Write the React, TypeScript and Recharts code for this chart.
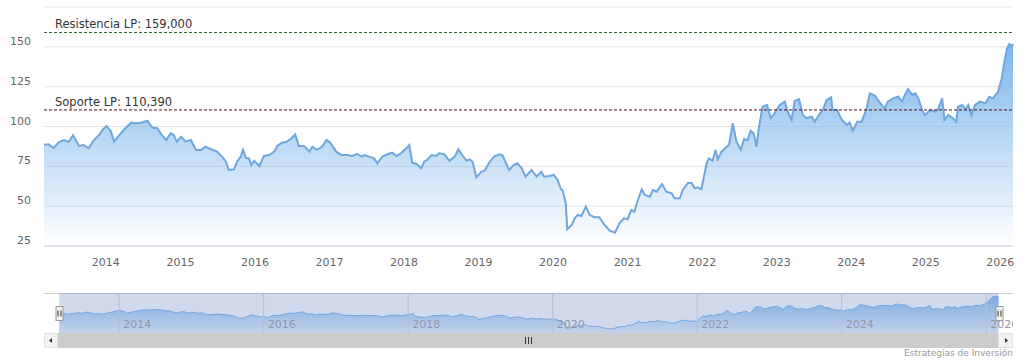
import React from "react";
import {
  AreaChart,
  Area,
  XAxis,
  YAxis,
  CartesianGrid,
  ReferenceLine,
  ReferenceArea
} from "recharts";

// price history, decimal years
const dates = [
  2013.17, 2013.23, 2013.30, 2013.37, 2013.44, 2013.50, 2013.56, 2013.64, 2013.70, 2013.77,
  2013.84, 2013.91, 2013.96, 2014.01, 2014.07, 2014.11, 2014.17, 2014.24, 2014.34, 2014.40,
  2014.47, 2014.51, 2014.56, 2014.62, 2014.69, 2014.75, 2014.81, 2014.87, 2014.91, 2014.95,
  2015.01, 2015.07, 2015.14, 2015.21, 2015.28, 2015.34, 2015.41, 2015.49, 2015.56, 2015.61,
  2015.65, 2015.72, 2015.76, 2015.81, 2015.84, 2015.88, 2015.92, 2015.95, 2015.99, 2016.06,
  2016.12, 2016.19, 2016.26, 2016.30, 2016.36, 2016.43, 2016.49, 2016.54, 2016.59, 2016.66,
  2016.73, 2016.77, 2016.83, 2016.90, 2016.96, 2017.01, 2017.09, 2017.16, 2017.24, 2017.31,
  2017.37, 2017.43, 2017.47, 2017.53, 2017.60, 2017.64, 2017.71, 2017.78, 2017.84, 2017.90,
  2017.96, 2018.03, 2018.07, 2018.11, 2018.17, 2018.23, 2018.27, 2018.31, 2018.37, 2018.43,
  2018.47, 2018.54, 2018.61, 2018.68, 2018.73, 2018.78, 2018.84, 2018.88, 2018.92, 2018.97,
  2019.04, 2019.08, 2019.15, 2019.21, 2019.28, 2019.32, 2019.37, 2019.41, 2019.47, 2019.52,
  2019.58, 2019.63, 2019.71, 2019.78, 2019.84, 2019.88, 2019.95, 2020.01, 2020.06, 2020.10,
  2020.13, 2020.17, 2020.19, 2020.25, 2020.29, 2020.33, 2020.38, 2020.44, 2020.49, 2020.56,
  2020.62, 2020.69, 2020.76, 2020.83, 2020.89, 2020.95, 2021.00, 2021.05, 2021.09, 2021.13,
  2021.19, 2021.23, 2021.30, 2021.34, 2021.39, 2021.46, 2021.52, 2021.59, 2021.63, 2021.70,
  2021.74, 2021.81, 2021.86, 2021.90, 2021.94, 2021.99, 2022.03, 2022.06, 2022.09, 2022.14,
  2022.18, 2022.21, 2022.26, 2022.32, 2022.36, 2022.41, 2022.46, 2022.52, 2022.56, 2022.61,
  2022.65, 2022.69, 2022.73, 2022.76, 2022.81, 2022.87, 2022.92, 2022.97, 2023.04, 2023.11,
  2023.14, 2023.20, 2023.24, 2023.30, 2023.35, 2023.40, 2023.47, 2023.51, 2023.58, 2023.62,
  2023.67, 2023.73, 2023.75, 2023.81, 2023.87, 2023.94, 2023.98, 2024.02, 2024.08, 2024.14,
  2024.20, 2024.25, 2024.32, 2024.36, 2024.41, 2024.45, 2024.49, 2024.56, 2024.63, 2024.68,
  2024.72, 2024.76, 2024.82, 2024.86, 2024.90, 2024.95, 2024.99, 2025.06, 2025.12, 2025.16,
  2025.22, 2025.25, 2025.30, 2025.35, 2025.41, 2025.43, 2025.49, 2025.53, 2025.57, 2025.61,
  2025.66, 2025.73, 2025.80, 2025.85, 2025.90, 2025.97, 2026.02, 2026.05, 2026.09, 2026.12,
  2026.16, 2026.17
];

const prices = [
  88.5, 88.8, 86.5, 90.2, 91.5, 90.3, 94.5, 87.8, 88.4, 86.3,
  91.5, 94.7, 98.2, 100.3, 96.8, 90.5, 94.0, 97.8, 102.4, 102.0,
  102.4, 103.0, 103.5, 99.3, 98.9, 94.7, 91.5, 95.8, 94.7, 90.5,
  93.6, 90.5, 91.5, 85.3, 85.3, 87.3, 85.7, 84.2, 81.1, 77.9,
  72.7, 73.1, 77.9, 81.1, 85.3, 80.0, 80.0, 75.8, 78.5, 75.2,
  81.5, 82.1, 84.2, 87.8, 89.8, 90.5, 92.6, 95.1, 87.8, 87.8,
  84.2, 87.3, 85.3, 87.3, 91.5, 89.8, 84.2, 82.1, 82.1, 81.5,
  82.8, 81.1, 82.1, 81.1, 80.0, 76.9, 81.1, 82.6, 83.6, 81.5,
  83.2, 86.3, 88.4, 77.3, 76.5, 73.8, 77.9, 79.0, 82.1, 81.5,
  83.2, 82.6, 78.5, 81.1, 85.7, 82.1, 78.5, 79.4, 77.9, 68.1,
  71.7, 72.3, 77.9, 81.1, 82.6, 82.1, 76.9, 72.7, 75.8, 76.9,
  73.8, 68.5, 72.7, 68.5, 71.7, 68.5, 68.9, 69.6, 66.4, 61.2,
  59.7, 51.8, 35.5, 38.2, 42.4, 44.5, 43.8, 49.7, 44.5, 43.0,
  43.0, 38.2, 34.6, 33.3, 39.2, 42.4, 41.8, 47.6, 46.5, 52.8,
  60.6, 57.0, 55.9, 60.2, 59.1, 63.9, 59.1, 58.1, 54.9, 54.9,
  60.2, 64.7, 64.4, 61.2, 61.8, 60.6, 70.0, 76.9, 80.0, 78.5,
  85.3, 79.4, 84.2, 87.0, 88.4, 102.0, 90.5, 85.3, 92.0, 91.5,
  97.4, 95.8, 87.3, 98.9, 112.4, 113.5, 105.2, 108.3, 113.5, 115.6,
  110.4, 104.1, 116.2, 117.1, 107.2, 105.2, 106.2, 103.0, 108.3, 110.4,
  116.6, 118.3, 110.4, 110.4, 104.5, 101.0, 102.4, 97.4, 103.0, 103.0,
  110.4, 120.8, 119.2, 116.6, 113.5, 111.4, 115.6, 117.7, 118.7, 115.6,
  119.8, 123.4, 119.8, 120.8, 117.7, 110.4, 107.2, 110.4, 109.3, 110.4,
  117.7, 104.1, 107.2, 105.8, 103.0, 112.4, 113.5, 110.8, 113.5, 107.2,
  113.5, 115.6, 114.5, 118.7, 117.7, 121.9, 130.3, 139.7, 149.1, 151.8,
  150.5, 151.8
];

const yearTicks = [2014, 2015, 2016, 2017, 2018, 2019, 2020, 2021, 2022, 2023, 2024, 2025, 2026];
const navYearTicks = [2014, 2016, 2018, 2020, 2022, 2024, 2026];
const priceTicks = [25, 50, 75, 100, 125, 150, 175];

const resistance = 159;
const resistanceLabel = "Resistencia LP: 159,000";
const support = 110.39;
const supportLabel = "Soporte LP: 110,390";
const creditText = "Estrategias de Inversión";

const data = dates.map((d, i) => ({ date: d, price: prices[i] }));
const firstDate = dates[0];
const lastDate = dates[dates.length - 1];

const FONT = '"DejaVu Sans", Verdana, sans-serif';
const SERIES = "#7cb5ec";

// eslint-disable-next-line @typescript-eslint/no-explicit-any
const PriceTick = ({ y, payload }: any) => {
  if (payload.value === 175) return <g />;
  return (
    <text x={31} y={y - 2} textAnchor="end" fontSize={11} fill="#666666" fontFamily={FONT}>
      {payload.value}
    </text>
  );
};

// eslint-disable-next-line @typescript-eslint/no-explicit-any
const YearTick = ({ x, payload }: any) => (
  <text x={x} y={266} textAnchor="middle" fontSize={11} fill="#666666" fontFamily={FONT}>
    {payload.value}
  </text>
);

// eslint-disable-next-line @typescript-eslint/no-explicit-any
const navYearLabel = (year: number) => (props: any) => {
  const vb = props.viewBox || {};
  return (
    <text x={vb.x + 4} y={vb.y + 35} textAnchor="start" fontSize={11} fill="#8e97a9" fontFamily={FONT}>
      {year}
    </text>
  );
};

// eslint-disable-next-line @typescript-eslint/no-explicit-any
const plotLineLabel = (text: string) => (props: any) => {
  const vb = props.viewBox || {};
  return (
    <text x={vb.x + 11} y={vb.y - 4} fontSize={11.5} fill="#333333" fontFamily={FONT}>
      {text}
    </text>
  );
};

// eslint-disable-next-line @typescript-eslint/no-explicit-any
const navHandle = (props: any) => {
  const vb = props.viewBox || {};
  const cx = Math.round(vb.x) + 0.5;
  const top = Math.round(vb.y + vb.height / 2 - 7) + 0.5;
  return (
    <g>
      <rect x={cx - 3.5} y={top} width={7} height={14} fill="#f2f2f2" stroke="#999999" strokeWidth={1} />
      <line x1={cx - 1.5} y1={top + 4} x2={cx - 1.5} y2={top + 10} stroke="#333333" strokeWidth={1} />
      <line x1={cx + 1.5} y1={top + 4} x2={cx + 1.5} y2={top + 10} stroke="#333333" strokeWidth={1} />
    </g>
  );
};

const Scrollbar: React.FC = () => (
  <svg width={969} height={15} style={{ position: "absolute", left: 44, top: 333 }}>
    <rect x={0} y={0} width={969} height={15} fill="#f2f2f2" />
    <rect x={14} y={0} width={940} height={15} fill="#cccccc" />
    <rect x={0.5} y={0.5} width={13} height={14} fill="#f2f2f2" stroke="#e3e3e3" />
    <polygon points="5,7.5 8,5 8,10" fill="#333333" />
    <rect x={954.5} y={0.5} width={14} height={14} fill="#f2f2f2" stroke="#e3e3e3" />
    <polygon points="964,7.5 961,5 961,10" fill="#333333" />
    <line x1={481.5} y1={4} x2={481.5} y2={11} stroke="#333333" />
    <line x1={484.5} y1={4} x2={484.5} y2={11} stroke="#333333" />
    <line x1={487.5} y1={4} x2={487.5} y2={11} stroke="#333333" />
  </svg>
);

const App: React.FC = () => {
  return (
    <div
      style={{
        position: "absolute",
        left: 0,
        top: 0,
        width: 1023,
        height: 360,
        background: "#ffffff",
        fontFamily: FONT,
        overflow: "hidden"
      }}
    >
      <AreaChart
        width={1023}
        height={280}
        data={data}
        margin={{ top: 7, right: 10, left: 0, bottom: 0 }}
      >
        <defs>
          <linearGradient id="mainFill" x1="0" y1="0" x2="0" y2="1">
            <stop offset="0%" stopColor={SERIES} stopOpacity={1} />
            <stop offset="100%" stopColor={SERIES} stopOpacity={0} />
          </linearGradient>
        </defs>
        <CartesianGrid vertical={false} stroke="#e6e6e6" />
        <XAxis
          dataKey="date"
          type="number"
          domain={["dataMin", "dataMax"]}
          ticks={yearTicks}
          height={34}
          axisLine={{ stroke: "#ccd6eb" }}
          tickLine={false}
          tick={<YearTick />}
          interval={0}
        />
        <YAxis
          type="number"
          domain={[25, 175]}
          ticks={priceTicks}
          width={44}
          axisLine={false}
          tickLine={false}
          tick={<PriceTick />}
          interval={0}
        />
        <Area
          type="linear"
          dataKey="price"
          stroke="#6fa6dc"
          strokeWidth={2}
          fill="url(#mainFill)"
          fillOpacity={1}
          dot={false}
          activeDot={false}
          isAnimationActive={false}
        />
        <ReferenceLine
          y={resistance}
          stroke="#2f5f2f"
          strokeDasharray="3 2"
          strokeWidth={1}
          label={plotLineLabel(resistanceLabel)}
        />
        <ReferenceLine
          y={support}
          stroke="#4a1010"
          strokeDasharray="3 2"
          strokeWidth={1}
          label={plotLineLabel(supportLabel)}
        />
      </AreaChart>

      <div
        style={{
          position: "absolute",
          left: 44,
          top: 293,
          width: 969,
          height: 40,
          borderTop: "1px solid #cccccc",
          boxSizing: "border-box"
        }}
      />
      <div style={{ position: "absolute", left: 44, top: 293 }}>
        <AreaChart width={969} height={40} data={data} margin={{ top: 0, right: 0, left: 0, bottom: 0 }}>
          <defs>
            <linearGradient id="navFill" x1="0" y1="0" x2="0" y2="1">
              <stop offset="0%" stopColor={SERIES} stopOpacity={0.9} />
              <stop offset="100%" stopColor={SERIES} stopOpacity={0.15} />
            </linearGradient>
          </defs>
          <XAxis
            dataKey="date"
            type="number"
            domain={[(min: number) => min - 0.21, (max: number) => max + 0.2]}
            hide
            height={0}
          />
          <YAxis type="number" domain={[19, 163]} hide width={0} />
          <Area
            type="linear"
            dataKey="price"
            stroke={SERIES}
            strokeWidth={1}
            fill="url(#navFill)"
            fillOpacity={1}
            dot={false}
            activeDot={false}
            isAnimationActive={false}
          />
          <ReferenceArea x1={firstDate} x2={lastDate} fill="#6685c2" fillOpacity={0.3} stroke="none" />
          {navYearTicks.map((yr) => (
            <ReferenceLine key={yr} x={yr} stroke="#b6bfd2" strokeWidth={1} label={navYearLabel(yr)} />
          ))}
          <ReferenceLine x={firstDate} stroke="none" label={navHandle} />
          <ReferenceLine x={lastDate} stroke="none" label={navHandle} />
        </AreaChart>
      </div>

      <Scrollbar />

      <div
        style={{
          position: "absolute",
          right: 10,
          top: 347,
          fontSize: 9,
          color: "#999999",
          fontFamily: FONT,
          lineHeight: "12px"
        }}
      >
        {creditText}
      </div>
    </div>
  );
};

export default App;
